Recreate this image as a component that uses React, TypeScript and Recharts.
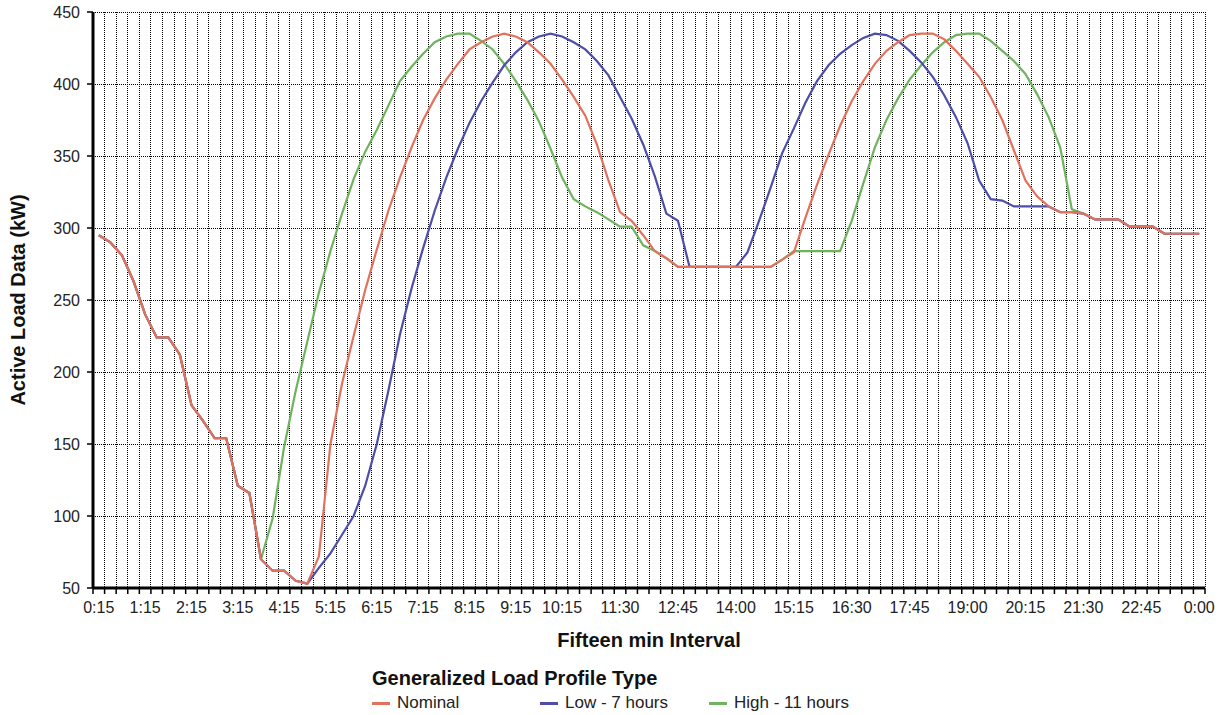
import { LineChart, Line, XAxis, YAxis, CartesianGrid } from "recharts";

// 15-minute slots, 0:15 .. 0:00
const SLOTS = Array.from({ length: 96 }, (_, i) => {
  const m = ((i + 1) * 15) % 1440;
  return `${Math.floor(m / 60)}:${String(m % 60).padStart(2, "0")}`;
});

const TICK_SLOTS = [0, 4, 8, 12, 16, 20, 24, 28, 32, 36, 40, 45, 50, 55, 60, 65, 70, 75, 80, 85, 90, 95];
const TICK_LABELS = ["0:15", "1:15", "2:15", "3:15", "4:15", "5:15", "6:15", "7:15", "8:15", "9:15", "10:15", "11:30", "12:45", "14:00", "15:15", "16:30", "17:45", "19:00", "20:15", "21:30", "22:45", "0:00"];
const Y_TICKS = [50, 100, 150, 200, 250, 300, 350, 400, 450];

const nominal = [
  295, 290, 281, 263, 240, 224, 224, 212, 177, 166,
  154, 154, 121, 116, 70, 62, 62, 55, 53, 72,
  150, 192, 225, 257, 285, 312, 335, 356, 375, 390,
  403, 414, 424, 429, 433, 435, 433, 429, 422, 414,
  403, 391, 378, 358, 333, 311, 305, 295, 284, 279,
  273, 273, 273, 273, 273, 273, 273, 273, 273, 278,
  283, 307, 330, 351, 371, 388, 402, 414, 423, 429,
  434, 435, 435, 431, 423, 414, 405, 391, 375, 354,
  333, 322, 315, 311, 311, 310, 306, 306, 306, 301,
  301, 301, 296, 296, 296, 296,
];

const low7 = [
  295, 290, 281, 263, 240, 224, 224, 212, 177, 166,
  154, 154, 121, 116, 70, 62, 62, 55, 53, 64,
  74, 87, 100, 121, 150, 187, 226, 258, 286, 312,
  335, 355, 373, 388, 401, 413, 422, 429, 433, 435,
  433, 429, 424, 416, 406, 391, 376, 358, 336, 310,
  305, 273, 273, 273, 273, 273, 283, 305, 328, 352,
  369, 387, 402, 413, 421, 427, 432, 435, 434, 430,
  423, 415, 405, 392, 377, 359, 333, 320, 319, 315,
  315, 315, 315, 311, 311, 310, 306, 306, 306, 301,
  301, 301, 296, 296, 296, 296,
];

const high11 = [
  295, 290, 281, 263, 240, 224, 224, 212, 177, 166,
  154, 154, 121, 116, 70, 98, 148, 187, 221, 255,
  284, 310, 334, 353, 368, 385, 402, 412, 421, 429,
  433, 435, 435, 430, 424, 414, 402, 389, 374, 355,
  335, 320, 315, 311, 306, 301, 301, 288, 284, 279,
  273, 273, 273, 273, 273, 273, 273, 273, 273, 278,
  284, 284, 284, 284, 284, 305, 331, 356, 375, 390,
  403, 413, 422, 429, 434, 435, 435, 430, 423, 416,
  407, 393, 377, 356, 313, 310, 306, 306, 306, 301,
  301, 301, 296, 296, 296, 296,
];

const SERIES = [
  { key: "nominal", name: "Nominal", color: "#E2725D" },
  { key: "low", name: "Low - 7 hours", color: "#4D4DAA" },
  { key: "high", name: "High - 11 hours", color: "#6FB35E" },
];

const data = SLOTS.map((slot, i) => ({
  x: i + 0.5,
  slot,
  nominal: nominal[i],
  low: low7[i],
  high: high11[i],
}));

const FONT = "'Liberation Sans', Arial, sans-serif";
const boundaries = Array.from({ length: 97 }, (_, i) => i);
const labelTicks = TICK_SLOTS.map((s) => s + 0.5);

export default function App() {
  return (
    <div style={{ position: "relative", width: 1225, height: 715, fontFamily: FONT, background: "#fff" }}>
      <style>{"body{margin:0}"}</style>
      <LineChart width={1225} height={715} data={data} margin={{ top: 12, right: 20, bottom: 125, left: 0 }}>
        <CartesianGrid xAxisId="grid" stroke="#000" strokeDasharray="1 1" shapeRendering="crispEdges" />
        <XAxis
          xAxisId="grid"
          dataKey="x"
          type="number"
          domain={[0, 96]}
          ticks={boundaries}
          interval={0}
          tickFormatter={() => ""}
          height={1}
          tickSize={6}
          axisLine={{ stroke: "#000", strokeWidth: 3 }}
          tickLine={{ stroke: "#000", strokeWidth: 1.5 }}
        />
        <XAxis
          xAxisId="lab"
          dataKey="x"
          type="number"
          domain={[0, 96]}
          ticks={labelTicks}
          interval={0}
          height={1}
          tickSize={6}
          tickMargin={7}
          axisLine={false}
          tickLine={false}
          tick={{ fill: "#222", fontSize: 16, fontFamily: FONT }}
          tickFormatter={(v: number) => TICK_LABELS[TICK_SLOTS.indexOf(v - 0.5)] ?? ""}
          label={{ value: "Fifteen min Interval", position: "bottom", offset: 43, style: { fontSize: 20, fontWeight: "bold", fill: "#111", fontFamily: FONT } }}
        />
        <YAxis
          domain={[50, 450]}
          ticks={Y_TICKS}
          interval={0}
          width={93}
          tickSize={6}
          tickMargin={7}
          axisLine={{ stroke: "#000", strokeWidth: 3 }}
          tickLine={{ stroke: "#000", strokeWidth: 1.5 }}
          tick={{ fill: "#222", fontSize: 16, fontFamily: FONT }}
          label={{ value: "Active Load Data (kW)", angle: -90, position: "insideLeft", offset: 18, style: { textAnchor: "middle", fontSize: 20, fontWeight: "bold", fill: "#111", fontFamily: FONT } }}
        />
        <Line xAxisId="grid" dataKey="high" name="High - 11 hours" stroke="#6FB35E" strokeWidth={2.2} dot={false} isAnimationActive={false} />
        <Line xAxisId="grid" dataKey="low" name="Low - 7 hours" stroke="#4D4DAA" strokeWidth={2.2} dot={false} isAnimationActive={false} />
        <Line xAxisId="grid" dataKey="nominal" name="Nominal" stroke="#E2725D" strokeWidth={2.2} dot={false} isAnimationActive={false} />
      </LineChart>
      <div style={{ position: "absolute", left: 372, top: 667, fontSize: 20, fontWeight: "bold", color: "#111", lineHeight: "22px" }}>
        Generalized Load Profile Type
      </div>
      {SERIES.map((s, i) => (
        <div key={s.key} style={{ position: "absolute", left: [372, 540, 709][i], top: 693, display: "flex", alignItems: "center", fontSize: 17, color: "#222", lineHeight: "20px" }}>
          <span style={{ display: "inline-block", width: 18, height: 3, background: s.color, marginRight: 7 }} />
          {s.name}
        </div>
      ))}
    </div>
  );
}
